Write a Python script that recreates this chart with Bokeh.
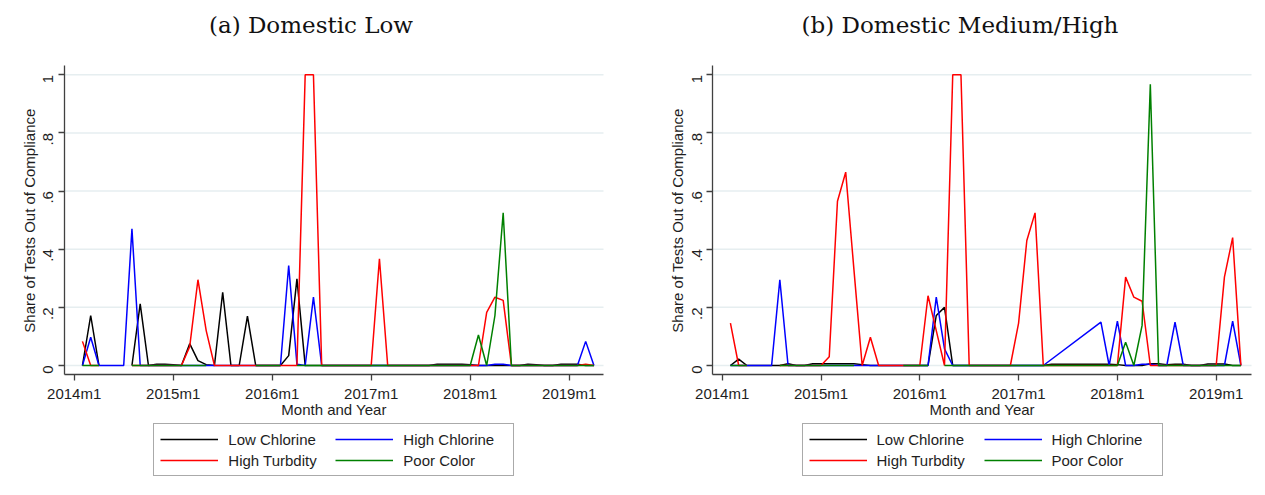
import math
from bokeh.plotting import figure
from bokeh.models import FixedTicker, Legend, LegendItem, Label, Range1d
from bokeh.layouts import row
from bokeh.embed import file_html
from bokeh.resources import INLINE

N = None

# months counted from 2014m1 (= 0); data run from 2014m2 (1) to 2019m4 (63)
months = list(range(1, 64))
x_tick_pos = [0, 12, 24, 36, 48, 60]
x_tick_labels = ["2014m1", "2015m1", "2016m1", "2017m1", "2018m1", "2019m1"]
y_tick_pos = [0, 0.2, 0.4, 0.6, 0.8, 1.0]
y_tick_labels = ["0", ".2", ".4", ".6", ".8", "1"]

series_names = ["Low Chlorine", "High Chlorine", "High Turbdity", "Poor Color"]
series_colors = ["#000000", "#0000ff", "#ff0000", "#008000"]

panel_titles = ["(a) Domestic Low", "(b) Domestic Medium/High"]
x_title = "Month and Year"
y_title = "Share of Tests Out of Compliance"

# ---------------- (a) Domestic Low ----------------
low_chlorine_a = (
    [0, .172, 0, N, N, N, 0, .212, 0, .004, .004]
    + [.003, 0, .075, .017, .003, 0, .252, 0, 0, .17, 0, 0]
    + [0, 0, .034, .298, 0, 0, 0, 0, 0, 0, 0, 0]
    + [0, 0, 0, 0, 0, 0, 0, 0, .004, .004, .004, .004]
    + [.003, 0, 0, 0, 0, 0, 0, .004, .003, 0, 0, .004]
    + [.004, .004, 0, 0]
)
high_chlorine_a = (
    [0, .097, 0, 0, 0, 0, .47, 0, 0, 0, 0]
    + [0, 0, 0, 0, 0, 0, 0, 0, 0, 0, 0, 0]
    + [0, 0, .344, .004, 0, .235, 0, 0, 0, 0, 0, 0]
    + [0, 0, 0, 0, 0, 0, 0, 0, 0, 0, 0, 0]
    + [0, 0, 0, .004, .004, 0, 0, 0, 0, 0, 0, 0]
    + [0, 0, .083, 0]
)
high_turbidity_a = (
    [.083, 0, 0, N, N, N, 0, 0, 0, 0, 0]
    + [0, 0, .065, .295, .12, 0, 0, 0, 0, 0, 0, 0]
    + [0, 0, 0, 0, 1, 1, 0, 0, 0, 0, 0, 0]
    + [0, .367, 0, 0, 0, 0, 0, 0, 0, 0, 0, 0]
    + [0, 0, .183, .235, .224, 0, 0, 0, 0, 0, 0, 0]
    + [0, 0, .004, 0]
)
poor_color_a = (
    [0, 0, 0, N, N, N, 0, 0, 0, 0, 0]
    + [0, 0, 0, 0, 0, N, N, N, N, N, 0, 0]
    + [0, 0, N, 0, 0, 0, 0, 0, 0, 0, 0, 0]
    + [0, 0, 0, 0, 0, 0, 0, 0, 0, 0, 0, 0]
    + [0, .105, 0, .172, .525, 0, 0, 0, 0, 0, 0, 0]
    + [0, 0, 0, 0]
)

# ---------------- (b) Domestic Medium/High ----------------
low_chlorine_b = (
    [0, .022, 0, 0, 0, 0, 0, .006, 0, 0, .006]
    + [.006, .006, .006, .006, .006, .003, 0, 0, 0, 0, 0, 0]
    + [0, 0, .172, .2, 0, 0, 0, 0, 0, 0, 0, 0]
    + [0, 0, 0, 0, .004, .004, .004, .004, .004, .004, .004, .004]
    + [.003, 0, 0, 0, .006, .006, .003, .004, .004, 0, 0, .005]
    + [.005, .005, 0, 0]
)
high_chlorine_b = (
    [0, 0, 0, 0, 0, 0, .295, 0, 0, 0, 0]
    + [0, 0, 0, 0, 0, 0, 0, 0, 0, 0, 0, 0]
    + [0, 0, .235, .057, 0, 0, 0, 0, 0, 0, 0, 0]
    + [0, 0, 0, 0, N, N, N, N, N, N, .149, 0]
    + [.153, 0, 0, .004, .004, 0, 0, .149, 0, 0, 0, 0]
    + [0, 0, .153, 0]
)
high_turbidity_b = (
    [.146, 0, 0, N, N, N, 0, 0, 0, 0, 0]
    + [0, .03, .565, .665, .33, 0, .097, 0, 0, 0, 0, 0]
    + [0, .24, .12, 0, 1, 1, 0, 0, 0, 0, 0, 0]
    + [.146, .43, .525, 0, 0, 0, 0, 0, 0, 0, 0, 0]
    + [0, .304, .235, .221, 0, 0, 0, 0, 0, 0, 0, 0]
    + [0, .304, .44, 0]
)
poor_color_b = (
    [0, 0, 0, N, N, N, 0, 0, 0, 0, 0]
    + [0, 0, 0, 0, 0, N, N, N, N, N, 0, 0]
    + [0, 0, N, 0, 0, 0, 0, 0, 0, 0, 0, 0]
    + [0, 0, 0, 0, 0, 0, 0, 0, 0, 0, 0, 0]
    + [0, .08, 0, .138, .967, 0, 0, 0, 0, 0, 0, 0]
    + [0, 0, 0, 0]
)

SANS = "Liberation Sans"
SERIF = "DejaVu Serif"
AXIS_COLOR = "#404040"
TEXT_COLOR = "#1e1e1e"
FIG_H = 495
Y_RANGE = (-0.4472, 1.2556)      # frame covers whole figure
Y_AXIS_SPAN = (-0.031, 1.032)    # visible axis extent


def xy(vals, connect):
    xs, ys = [], []
    for m, v in zip(months, vals):
        if v is None:
            if connect:
                continue
            xs.append(m)
            ys.append(float("nan"))
        else:
            xs.append(m)
            ys.append(v)
    return xs, ys


def build(title, series, connect, width, xr, x_axis_span, title_x, xlab_x, ylab_x, leg_x):
    p = figure(width=width, height=FIG_H, output_backend="svg", toolbar_location=None,
               x_range=Range1d(*xr), y_range=Range1d(*Y_RANGE),
               min_border=0, min_border_left=0, min_border_right=0,
               min_border_top=0, min_border_bottom=0,
               background_fill_color="white", border_fill_color="white")
    p.outline_line_color = None
    p.grid.visible = False

    # light horizontal grid lines at the y ticks, limited to the axis extent
    p.segment(x0=[x_axis_span[0]] * len(y_tick_pos), x1=[x_axis_span[1]] * len(y_tick_pos),
              y0=y_tick_pos, y1=y_tick_pos, line_color="#e6eef0", line_width=1.5)

    xa, ya = p.xaxis[0], p.yaxis[0]
    xa.fixed_location = Y_AXIS_SPAN[0]
    ya.fixed_location = x_axis_span[0]
    xa.bounds = x_axis_span
    ya.bounds = Y_AXIS_SPAN
    xa.ticker = FixedTicker(ticks=x_tick_pos)
    xa.major_label_overrides = dict(zip(x_tick_pos, x_tick_labels))
    ya.ticker = FixedTicker(ticks=y_tick_pos)
    ya.major_label_overrides = dict(zip(y_tick_pos, y_tick_labels))
    ya.major_label_orientation = math.pi / 2

    for ax in (xa, ya):
        ax.axis_line_color = AXIS_COLOR
        ax.axis_line_width = 1.3
        ax.major_tick_line_color = AXIS_COLOR
        ax.major_tick_line_width = 1.3
        ax.major_tick_out = 6
        ax.major_tick_in = 0
        ax.minor_tick_line_color = None
        ax.major_label_text_font = SANS
        ax.major_label_text_font_size = "15px"
        ax.major_label_text_color = TEXT_COLOR
    xa.major_label_standoff = 4
    ya.major_label_standoff = 10

    items = []
    for name, color, vals, con in zip(series_names, series_colors, series, connect):
        xs, ys = xy(vals, con)
        r = p.line(xs, ys, line_color=color, line_width=1.5)
        items.append(LegendItem(label=name, renderers=[r]))

    legend = Legend(items=items, orientation="horizontal", ncols=2, location=(leg_x, 19),
                    label_text_font=SANS, label_text_font_size="15px",
                    label_text_color=TEXT_COLOR, glyph_width=58, glyph_height=18,
                    label_height=18, label_width=104, label_standoff=10,
                    spacing=3, padding=6, margin=0,
                    border_line_color="#555555", border_line_width=1.5,
                    background_fill_color="white", background_fill_alpha=1.0)
    p.add_layout(legend, "center")

    p.add_layout(Label(x=title_x, y=471, x_units="screen", y_units="screen",
                       text=title, text_font=SERIF, text_font_size="23px",
                       text_color="#111111", text_align="center",
                       text_baseline="alphabetic"))
    p.add_layout(Label(x=xlab_x, y=86, x_units="screen", y_units="screen",
                       text=x_title, text_font=SANS, text_font_size="15px",
                       text_color=TEXT_COLOR, text_align="center",
                       text_baseline="alphabetic"))
    p.add_layout(Label(x=ylab_x, y=275, x_units="screen", y_units="screen",
                       text=y_title, text_font=SANS, text_font_size="15px",
                       text_color=TEXT_COLOR, text_align="center",
                       text_baseline="middle", angle=math.pi / 2))
    return p


pa = build(panel_titles[0],
           [low_chlorine_a, high_chlorine_a, high_turbidity_a, poor_color_a],
           [False, False, False, False],
           636, (-8.933, 68.16), (-1.176, 64.16),
           310.5, 333.5, 29, 153.3)
pb = build(panel_titles[1],
           [low_chlorine_b, high_chlorine_b, high_turbidity_b, poor_color_b],
           [False, True, False, False],
           629, (-10.41, 65.99), (-1.142, 64.29),
           323.5, 345.7, 41.3, 165.5)

layout = row(pa, pb)
open("out.html", "w").write(file_html(layout, INLINE))
